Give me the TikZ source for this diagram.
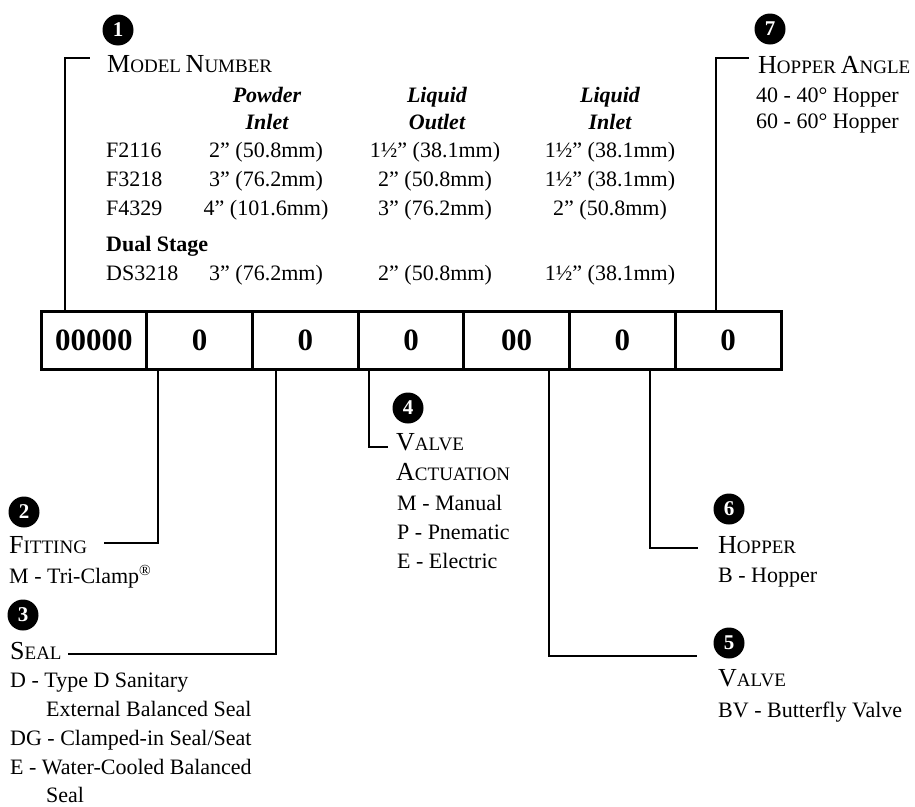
\documentclass[tikz,border=0pt]{standalone}
\usepackage{fontspec}
\setmainfont{Liberation Serif}
\newcommand\hsc[2]{{\fontsize{26}{30}\selectfont #1}{\fontsize{19}{22}\selectfont #2}}
\tikzset{
  body/.style={anchor=base west, inner sep=0pt, font=\fontsize{22}{26}\selectfont},
  bodyc/.style={anchor=base, inner sep=0pt, font=\fontsize{22}{26}\selectfont},
  colhead/.style={anchor=base, inner sep=0pt, font=\fontsize{22}{26}\selectfont\bfseries\itshape},
  heading/.style={anchor=base west, inner sep=0pt, font=\fontsize{19}{22}\selectfont},
  badge/.style={circle, fill=black, text=white, minimum size=31pt, inner sep=0pt, font=\fontsize{21}{21}\selectfont\bfseries},
  cell/.style={draw, line width=3pt, minimum width=105.71pt, minimum height=58pt, inner sep=0pt, font=\fontsize{31}{31}\selectfont\bfseries},
  conn/.style={line width=2.5pt}
}
\begin{document}
\begin{tikzpicture}[x=1pt,y=-1pt]
\useasboundingbox (0,0) rectangle (915,806);

% code boxes
\node[cell] (c1) at (93.86,340) {00000};
\node[cell] (c2) at (199.57,340) {0};
\node[cell] (c3) at (305.29,340) {0};
\node[cell] (c4) at (411.00,340) {0};
\node[cell] (c5) at (516.71,340) {00};
\node[cell] (c6) at (622.43,340) {0};
\node[cell] (c7) at (728.14,340) {0};

% connector ends
\coordinate (e1) at (90,58);
\coordinate (e7) at (749,58);
\coordinate (e2) at (104,543);
\coordinate (e3) at (68,654);
\coordinate (e4) at (388,447);
\coordinate (e5) at (697,656);
\coordinate (e6) at (698,548);

\draw[conn] ([xshift=-28.86pt]c1.north) |- (e1);
\draw[conn] ([xshift=-12.14pt]c7.north) |- (e7);
\draw[conn] ([xshift=-41.57pt]c2.south) |- (e2);
\draw[conn] ([xshift=-29.29pt]c3.south) |- (e3);
\draw[conn] ([xshift=-42pt]c4.south) |- (e4);
\draw[conn] ([xshift=32.29pt]c5.south) |- (e5);
\draw[conn] ([xshift=27.57pt]c6.south) |- (e6);

% badges
\node[badge] (b1) at (118,30) {1};
\node[badge] (b7) at (770,29) {7};
\node[badge] (b2) at (24,512) {2};
\node[badge] (b3) at (23,615) {3};
\node[badge] (b4) at (408,408) {4};
\node[badge] (b6) at (729,509) {6};
\node[badge] (b5) at (729,643) {5};

% 1 Model number
\node[heading] (h1) at (107,72) {\hsc{M}{ODEL} \hsc{N}{UMBER}};
\node[colhead] (ph1) at (267,102) {Powder};
\node[colhead] (ph2) at (267,129) {Inlet};
\node[colhead] (lo1) at (437,102) {Liquid};
\node[colhead] (lo2) at (437,129) {Outlet};
\node[colhead] (li1) at (610,102) {Liquid};
\node[colhead] (li2) at (610,129) {Inlet};

\node[body] (r1) at (106,157) {F2116};
\node[bodyc] (r1a) at (266,157) {2” (50.8mm)};
\node[bodyc] (r1b) at (435,157) {1½” (38.1mm)};
\node[bodyc] (r1c) at (610,157) {1½” (38.1mm)};

\node[body] (r2) at (106,186) {F3218};
\node[bodyc] (r2a) at (266,186) {3” (76.2mm)};
\node[bodyc] (r2b) at (435,186) {2” (50.8mm)};
\node[bodyc] (r2c) at (610,186) {1½” (38.1mm)};

\node[body] (r3) at (106,215) {F4329};
\node[bodyc] (r3a) at (266,215) {4” (101.6mm)};
\node[bodyc] (r3b) at (435,215) {3” (76.2mm)};
\node[bodyc] (r3c) at (610,215) {2” (50.8mm)};

\node[body, font=\fontsize{22}{26}\selectfont\bfseries] (ds) at (106,251) {Dual Stage};
\node[body] (r4) at (106,280) {DS3218};
\node[bodyc] (r4a) at (266,280) {3” (76.2mm)};
\node[bodyc] (r4b) at (435,280) {2” (50.8mm)};
\node[bodyc] (r4c) at (610,280) {1½” (38.1mm)};

% 7 Hopper angle
\node[heading] (h7) at (758,73) {\hsc{H}{OPPER} \hsc{A}{NGLE}};
\node[body] (t7a) at (756,102) {40 - 40° Hopper};
\node[body] (t7b) at (756,128) {60 - 60° Hopper};

% 2 Fitting
\node[heading] (h2) at (9,553) {\hsc{F}{ITTING}};
\node[body] (t2a) at (9,583) {M - Tri-Clamp\textsuperscript{®}};

% 3 Seal
\node[heading] (h3) at (10,659) {\hsc{S}{EAL}};
\node[body] (t3a) at (10,687) {D - Type D Sanitary};
\node[body] (t3b) at (46,716) {External Balanced Seal};
\node[body] (t3c) at (10,745) {DG - Clamped-in Seal/Seat};
\node[body] (t3d) at (10,774) {E - Water-Cooled Balanced};
\node[body] (t3e) at (46,802) {Seal};

% 4 Valve actuation
\node[heading] (h4a) at (396,450) {\hsc{V}{ALVE}};
\node[heading] (h4b) at (396,480) {\hsc{A}{CTUATION}};
\node[body] (t4a) at (397,510) {M - Manual};
\node[body] (t4b) at (397,539) {P - Pnematic};
\node[body] (t4c) at (397,568) {E - Electric};

% 6 Hopper
\node[heading] (h6) at (718,553) {\hsc{H}{OPPER}};
\node[body] (t6a) at (718,582) {B - Hopper};

% 5 Valve
\node[heading] (h5) at (718,686) {\hsc{V}{ALVE}};
\node[body] (t5a) at (718,717) {BV - Butterfly Valve};
\end{tikzpicture}
\end{document}
